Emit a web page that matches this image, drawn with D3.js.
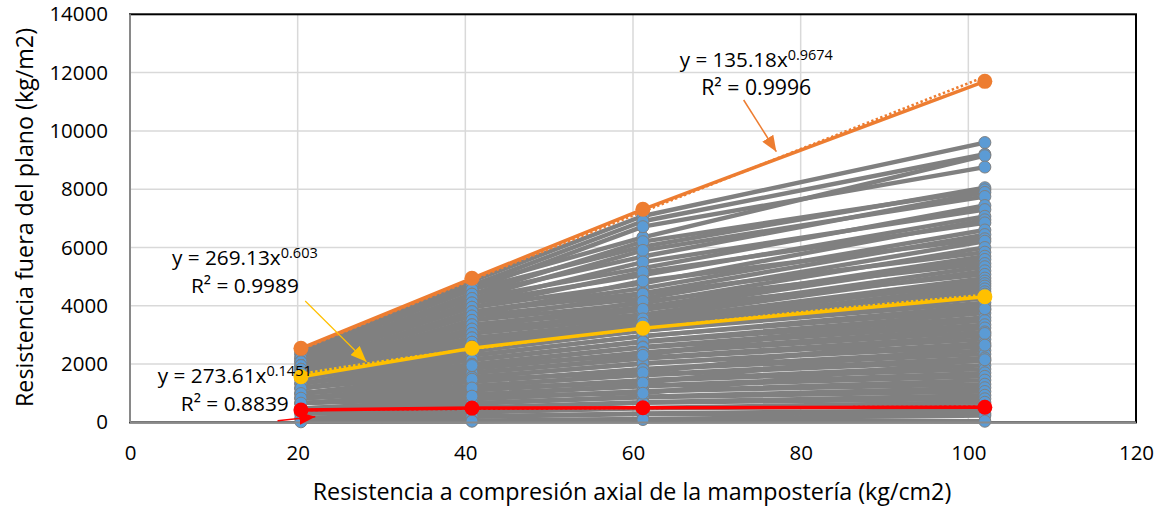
<!DOCTYPE html>
<html>
<head>
<meta charset="utf-8">
<script src="https://cdn.jsdelivr.net/npm/d3@7/dist/d3.min.js"></script>
<style>
  html, body { margin: 0; padding: 0; background: #fff; }
  svg { display: block; font-family: "Open Sans", "Noto Sans", sans-serif; }
</style>
</head>
<body>
<svg id="chart" width="1167" height="508"></svg>
<script>
// Masonry compressive strength (kg/cm2) at which every case was evaluated
const xValues = [20.39, 40.79, 61.18, 101.97];

// Out-of-plane resistance (kg/m2) for each analysed case, one row per case,
// one value per compressive strength in xValues
const caseValues = [
  [2420, 4850, 7080, 9600],
  [2420, 4700, 6900, 9200],
  [2330, 4700, 6350, 9150],
  [2330, 4560, 6714, 8760],
  [2330, 4560, 6030, 8050],
  [2200, 4400, 6200, 7980],
  [2200, 4400, 5690, 7890],
  [2200, 4250, 5900, 7750],
  [2200, 4250, 5290, 7440],
  [2080, 4100, 5500, 7300],
  [2080, 4100, 5050, 7070],
  [2080, 3950, 4770, 6950],
  [2080, 3950, 5150, 6844],
  [1950, 3800, 4600, 6600],
  [1950, 3800, 4430, 6444],
  [1950, 3650, 4850, 6300],
  [1950, 3650, 4250, 6215],
  [1820, 3500, 4085, 6000],
  [1820, 3500, 4400, 5839],
  [1820, 3350, 3950, 5700],
  [1820, 3350, 3850, 5590],
  [1700, 3200, 4150, 5450],
  [1700, 3200, 3700, 5340],
  [1700, 3050, 3600, 5200],
  [1700, 3050, 3880, 5077],
  [1600, 2900, 3480, 4950],
  [1600, 2900, 3380, 4850],
  [1600, 2750, 3550, 4760],
  [1600, 2750, 3300, 4677],
  [1500, 2600, 3250, 4580],
  [1500, 2600, 3400, 4480],
  [1500, 2600, 3180, 4400],
  [1490, 2460, 3140, 4260],
  [1490, 2440, 3160, 4110],
  [1490, 2310, 2950, 3993],
  [1330, 2290, 2970, 3860],
  [1330, 2160, 2780, 3750],
  [1330, 2140, 2760, 3597],
  [1330, 2000, 2590, 3490],
  [1170, 1980, 2570, 3350],
  [1170, 1860, 2400, 3240],
  [1170, 1840, 2380, 3104],
  [1170, 1710, 2210, 2980],
  [990, 1690, 2190, 2850],
  [990, 1560, 2010, 2720],
  [990, 1540, 2030, 2605],
  [990, 1400, 1830, 2470],
  [830, 1390, 1810, 2342],
  [830, 1250, 1640, 2210],
  [830, 1240, 1620, 2113],
  [830, 1110, 1450, 1960],
  [660, 1090, 1430, 1829],
  [660, 960, 1260, 1700],
  [660, 940, 1240, 1580],
  [660, 800, 1060, 1450],
  [480, 790, 1070, 1310],
  [480, 660, 880, 1190],
  [480, 640, 860, 1060],
  [480, 510, 690, 930],
  [310, 490, 670, 810],
  [310, 360, 500, 690],
  [310, 340, 480, 560],
  [310, 210, 310, 420],
  [140, 190, 290, 300],
  [140, 60, 120, 232],
  [20, 40, 100, 40],
  [1170, 1950, 2300, 3900],
  [990, 1480, 1700, 3050],
  [830, 1180, 1350, 2650],
  [660, 900, 1000, 2150]
];

// Envelope and median cases
const upperCase  = [2540, 4943, 7310, 11700];
const medianCase = [1568, 2542, 3228, 4312];
const lowerCase  = [425, 490, 505, 518];

// Power trendlines y = a * x^b fitted to the three highlighted cases
const trendA  = [135.18, 269.13, 273.61];
const trendB  = [0.9674, 0.603, 0.1451];
const trendR2 = ["0.9996", "0.9989", "0.8839"];

// Axis ticks
const xTicks = [0, 20, 40, 60, 80, 100, 120];
const yTicks = [0, 2000, 4000, 6000, 8000, 10000, 12000, 14000];

const xTitle = "Resistencia a compresión axial de la mampostería (kg/cm2)";
const yTitle = "Resistencia fuera del plano (kg/m2)";

// Highlight colours and the data-space anchors of their equation labels
const hiColors = ["#ED7D31", "#FFC000", "#FF0000"];
const labelAt  = [[74.7, 12202], [13.7, 5400], [12.5, 1352]];
const arrowFrom = [[73.2, 11060], [20.9, 4165], [17.6, 58]];
const arrowTo   = [[77.1, 9287], [28.2, 2082], [22.1, 196]];

// ---------------------------------------------------------------------------
const svg = d3.select("#chart");
const plotL = 130, plotR = 1136, plotT = 14.3, plotB = 422.4;

const x = d3.scaleLinear().domain([0, 120]).range([plotL, plotR]);
const y = d3.scaleLinear().domain([0, 14000]).range([plotB, plotT]);

const gray = "#808080", blue = "#5B9BD5";
const tickSize = 20.5;

// gridlines
svg.append("g").selectAll("line").data(yTicks.slice(1, -1)).join("line")
  .attr("x1", plotL).attr("x2", plotR)
  .attr("y1", d => y(d)).attr("y2", d => y(d))
  .attr("stroke", "#D9D9D9").attr("stroke-width", 1.5);
svg.append("g").selectAll("line").data(xTicks.slice(1, -1)).join("line")
  .attr("x1", d => x(d)).attr("x2", d => x(d))
  .attr("y1", plotT).attr("y2", plotB)
  .attr("stroke", "#D9D9D9").attr("stroke-width", 1.5);

// plot frame
svg.append("rect")
  .attr("x", plotL).attr("y", plotT)
  .attr("width", plotR - plotL).attr("height", plotB - plotT)
  .attr("fill", "none").attr("stroke", "#000").attr("stroke-width", 2);

const line = d3.line().x((d, i) => x(xValues[i])).y(d => y(d));

// every analysed case
const cases = svg.append("g");
cases.append("g").selectAll("path").data(caseValues).join("path")
  .attr("d", line)
  .attr("fill", "none").attr("stroke", gray)
  .attr("stroke-width", 4.4).attr("stroke-linejoin", "round");
cases.append("g").selectAll("g").data(caseValues).join("g")
  .selectAll("circle").data(d => d).join("circle")
  .attr("cx", (d, i) => x(xValues[i])).attr("cy", d => y(d))
  .attr("r", 6).attr("fill", blue)
  .attr("stroke", gray).attr("stroke-width", 1);

// axis lines on left and bottom
svg.append("line").attr("x1", plotL).attr("x2", plotR)
  .attr("y1", plotB).attr("y2", plotB)
  .attr("stroke", "#898989").attr("stroke-width", 2);
svg.append("line").attr("x1", plotL).attr("x2", plotL)
  .attr("y1", plotT).attr("y2", plotB)
  .attr("stroke", "#898989").attr("stroke-width", 2);

// highlighted cases
const hiSeries = [upperCase, medianCase, lowerCase];
hiSeries.forEach((vals, k) => {
  const g = svg.append("g");
  g.append("path").attr("d", line(vals))
    .attr("fill", "none").attr("stroke", hiColors[k])
    .attr("stroke-width", 3.5).attr("stroke-linejoin", "round");
  g.selectAll("circle").data(vals).join("circle")
    .attr("cx", (d, i) => x(xValues[i])).attr("cy", d => y(d))
    .attr("r", 7.5).attr("fill", hiColors[k]);
});

// power trendlines
const xs = d3.range(0, 201).map(i => xValues[0] + (xValues[3] - xValues[0]) * i / 200);
trendA.forEach((a, k) => {
  const pts = xs.map(v => [x(v), y(a * Math.pow(v, trendB[k]))]);
  svg.append("path").attr("d", d3.line()(pts))
    .attr("fill", "none").attr("stroke", hiColors[k])
    .attr("stroke-width", 2.6).attr("stroke-dasharray", "2.4 2.4");
});

// arrowheads and leader arrows
const defs = svg.append("defs");
hiColors.forEach((c, k) => {
  defs.append("marker").attr("id", "head" + k)
    .attr("markerUnits", "userSpaceOnUse")
    .attr("markerWidth", 17).attr("markerHeight", 13)
    .attr("refX", 16).attr("refY", 6.5).attr("orient", "auto")
    .append("path").attr("d", "M0,0 L16,6.5 L0,13 Z").attr("fill", c);
});
arrowFrom.forEach((p, k) => {
  svg.append("line")
    .attr("x1", x(p[0])).attr("y1", y(p[1]))
    .attr("x2", x(arrowTo[k][0])).attr("y2", y(arrowTo[k][1]))
    .attr("stroke", hiColors[k]).attr("stroke-width", k === 1 ? 1.2 : 1.5)
    .attr("marker-end", `url(#head${k})`);
});

// equation labels
function fitWidth(t, w) {
  const cur = t.node().getComputedTextLength();
  t.attr("font-size", parseFloat(t.attr("font-size")) * w / cur);
}
const eqWidths = [153, 146, 154];
const r2Widths = [110, 108, 108];
labelAt.forEach((p, k) => {
  const eq = svg.append("text")
    .attr("x", x(p[0])).attr("y", y(p[1]))
    .attr("text-anchor", "middle").attr("font-size", 18).attr("fill", "#000");
  eq.append("tspan").text(`y = ${trendA[k]}x`);
  eq.append("tspan").attr("dy", "-0.45em").attr("font-size", "0.7em").text(trendB[k]);
  fitWidth(eq, eqWidths[k]);
  const r2 = svg.append("text")
    .attr("x", x(p[0])).attr("y", y(p[1]) + 28.5)
    .attr("text-anchor", "middle").attr("font-size", 18).attr("fill", "#000")
    .text(`R² = ${trendR2[k]}`);
  fitWidth(r2, r2Widths[k]);
});

// axes
const xAxis = svg.append("g").attr("transform", `translate(0,${plotB})`)
  .call(d3.axisBottom(x).tickValues(xTicks).tickFormat(d => String(d))
    .tickSize(0).tickPadding(23));
const yAxis = svg.append("g").attr("transform", `translate(${plotL},0)`)
  .call(d3.axisLeft(y).tickValues(yTicks).tickFormat(d => String(d))
    .tickSize(0).tickPadding(22));
[xAxis, yAxis].forEach(a => {
  a.select(".domain").remove();
  a.selectAll("text").attr("font-size", tickSize)
    .attr("font-family", "'Open Sans', sans-serif").attr("fill", "#000");
});

// axis titles
const xt = svg.append("text").attr("x", 632).attr("y", 500)
  .attr("text-anchor", "middle").attr("font-size", 20).text(xTitle);
fitWidth(xt, 639);
const yt = svg.append("text")
  .attr("transform", "translate(33,217.5) rotate(-90)")
  .attr("text-anchor", "middle").attr("font-size", 20).text(yTitle);
fitWidth(yt, 379);
</script>
</body>
</html>
